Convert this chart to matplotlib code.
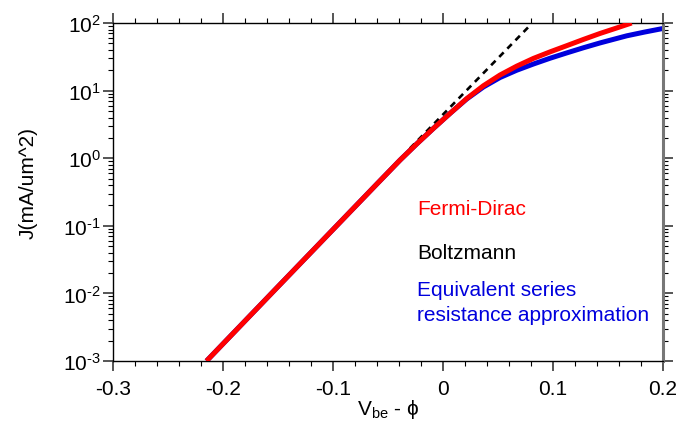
import matplotlib
matplotlib.use("Agg")
import matplotlib.pyplot as plt
from matplotlib.ticker import LogLocator, FuncFormatter, MultipleLocator, NullFormatter
import numpy as np

plt.rcParams['font.family'] = ['Liberation Sans', 'DejaVu Sans']
plt.rcParams['mathtext.fontset'] = 'custom'
plt.rcParams['mathtext.rm'] = 'Liberation Sans'
plt.rcParams['mathtext.it'] = 'Liberation Sans'

# Fermi-Dirac current density
fd_v = [-0.215, -0.15, -0.10, -0.06, -0.039, -0.024, -0.0088, 0.0064, 0.0215,
        0.0367, 0.0518, 0.067, 0.0821, 0.0973, 0.1125, 0.1276, 0.1427, 0.1575, 0.1715]
fd_j = [1e-3, 0.0126, 0.088, 0.417, 0.94, 1.62, 2.75, 4.6, 7.6,
        11.8, 17.0, 23.0, 29.9, 37.4, 46.2, 57.1, 70, 84, 100]

# Equivalent series resistance approximation
esr_v = [-0.215, -0.15, -0.10, -0.06, -0.039, -0.024, -0.0088, 0.0064, 0.0215,
         0.0367, 0.0518, 0.067, 0.0821, 0.0973, 0.1125, 0.1276, 0.1427, 0.167, 0.183, 0.2]
esr_j = [1e-3, 0.0126, 0.088, 0.417, 0.94, 1.62, 2.75, 4.6, 7.5,
         11.3, 15.6, 20.0, 24.7, 30.1, 36.1, 43, 50.7, 64.6, 73.3, 83]

# Boltzmann (ideal exponential)
bz_v = [-0.03, 0.0776]
bz_j = [1.40, 87]

x_ticks = [-0.3, -0.2, -0.1, 0.0, 0.1, 0.2]
x_tick_labels = ['-0.3', '-0.2', '-0.1', '0', '0.1', '0.2']


def decade_label(val, pos):
    exp = int(round(np.log10(val)))
    sign = '\u2010' if exp < 0 else ''
    return r'$\mathregular{10^{%s%d}}$' % (sign, abs(exp))


fig = plt.figure(figsize=(6.79, 4.31), dpi=100)
ax = fig.add_axes([113 / 679, 1 - 362 / 431, 550 / 679, 338 / 431])

ax.plot(esr_v, esr_j, color='#0000dd', lw=3.6, solid_capstyle='butt', zorder=2)
ax.plot(bz_v, bz_j, color='black', lw=1.9, dashes=(2.4, 2.0), zorder=3)
ax.plot(fd_v, fd_j, color='#ff0000', lw=3.6, solid_capstyle='butt', zorder=4)

ax.set_yscale('log')
ax.set_xlim(-0.3, 0.2)
ax.set_ylim(1e-3, 1e2)

ax.set_xticks(x_ticks)
ax.set_xticklabels(x_tick_labels)
ax.xaxis.set_minor_locator(MultipleLocator(0.02))
ax.yaxis.set_major_locator(LogLocator(base=10, numticks=10))
ax.yaxis.set_major_formatter(FuncFormatter(decade_label))
ax.yaxis.set_minor_locator(LogLocator(base=10, subs=range(2, 10), numticks=20))
ax.yaxis.set_minor_formatter(NullFormatter())

ax.tick_params(which='both', direction='out', top=True, right=True)
ax.tick_params(which='major', length=7.2, width=1.4, color='#555555', labelsize=15)
ax.tick_params(which='minor', length=3.6, width=0.8, color='black')
ax.tick_params(axis='x', which='major', pad=6)
ax.tick_params(axis='y', which='major', pad=1.5)

for side in ['left', 'bottom', 'top']:
    ax.spines[side].set_linewidth(1.0)
    ax.spines[side].set_color('black')
ax.spines['right'].set_linewidth(2.2)
ax.spines['right'].set_color('#777777')

ax.text(0.553, 0.45, 'Fermi-Dirac', color='#ff0000', fontsize=15,
        transform=ax.transAxes, va='center', ha='left')
ax.text(0.553, 0.322, 'Boltzmann', color='black', fontsize=15,
        transform=ax.transAxes, va='center', ha='left')
ax.text(0.553, 0.213, 'Equivalent series', color='#0000dd', fontsize=15,
        transform=ax.transAxes, va='center', ha='left')
ax.text(0.553, 0.139, 'resistance approximation', color='#0000dd', fontsize=15,
        transform=ax.transAxes, va='center', ha='left')

fig.text(28 / 679, 1 - 183 / 431, 'J(mA/um^2)', rotation=90, fontsize=15,
         ha='center', va='center')
fig.text(388 / 679, 1 - 410 / 431, r'V$_{\mathregular{be}}$ - ϕ', fontsize=15,
         ha='center', va='center')

fig.savefig('out.png', dpi=100)
